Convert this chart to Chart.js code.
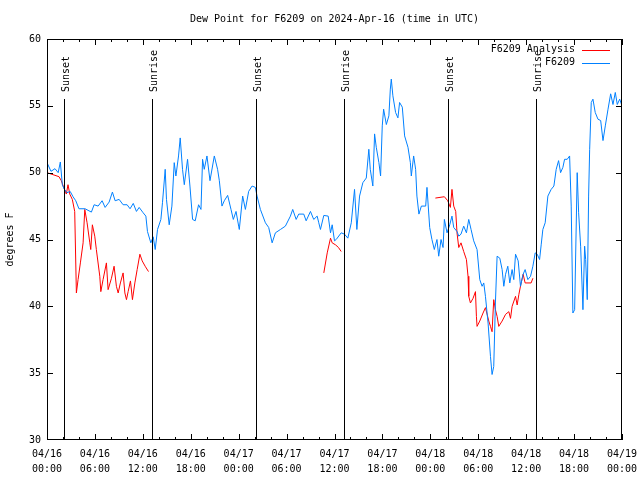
<!DOCTYPE html>
<html>
<head>
<meta charset="utf-8">
<script src="https://cdn.jsdelivr.net/npm/chart.js@4.4.1/dist/chart.umd.min.js"></script>
<style>
html, body { margin: 0; padding: 0; background: #fff; }
</style>
</head>
<body>
<canvas id="dew" width="640" height="480"></canvas>
<script>
// 時間は 04/16 00:00 UTC からの経過時間(h)
const xTickLabels = [
  ['04/16', '00:00'], ['04/16', '06:00'], ['04/16', '12:00'], ['04/16', '18:00'],
  ['04/17', '00:00'], ['04/17', '06:00'], ['04/17', '12:00'], ['04/17', '18:00'],
  ['04/18', '00:00'], ['04/18', '06:00'], ['04/18', '12:00'], ['04/18', '18:00'],
  ['04/19', '00:00']
];
const sunTimes = [2.17, 13.18, 26.2, 37.18, 50.15, 61.17];
const sunLabels = ['Sunset', 'Sunrise', 'Sunset', 'Sunrise', 'Sunset', 'Sunrise'];

// F6209 観測値 [時間, 露点F]
const f6209 = [
  [0, 50.75], [0.5, 50.1], [1.0, 50.3], [1.4, 50.0], [1.67, 50.8], [1.92, 49.1], [2.13, 48.8], [2.5, 48.5],
  [2.9, 48.6], [3.26, 48.2], [3.6, 47.9], [4.0, 47.3], [4.77, 47.3], [5.56, 47.05], [5.9, 47.6], [6.4, 47.5],
  [6.9, 47.9], [7.28, 47.4], [7.78, 47.8], [8.19, 48.55], [8.53, 47.9], [9.03, 48.0], [9.53, 47.6], [10.03, 47.6],
  [10.4, 47.3], [10.8, 47.7], [11.2, 47.1], [11.54, 47.4], [12.04, 47.0], [12.38, 46.75], [12.58, 45.6], [13.0, 44.75],
  [13.3, 45.2], [13.55, 44.25], [13.84, 45.75], [14.26, 46.5], [14.46, 47.75], [14.8, 50.25], [14.96, 48.0], [15.3, 46.1],
  [15.64, 47.5], [15.93, 50.75], [16.14, 49.75], [16.47, 51.25], [16.68, 52.6], [16.97, 50.25], [17.19, 49.1], [17.6, 51.0],
  [17.9, 49.0], [18.23, 46.5], [18.56, 46.4], [18.98, 47.6], [19.28, 47.25], [19.48, 51.0], [19.69, 50.25], [20.03, 51.25],
  [20.41, 49.4], [20.95, 51.25], [21.36, 50.25], [21.58, 49.4], [21.91, 47.5], [22.2, 47.9], [22.62, 48.3], [23.04, 47.25],
  [23.33, 46.5], [23.67, 47.1], [24.0, 46.0], [24.08, 45.75], [24.5, 48.25], [24.84, 47.25], [25.25, 48.6], [25.68, 49.0],
  [26.09, 48.9], [26.3, 48.25], [26.72, 47.25], [27.35, 46.25], [27.76, 45.9], [28.19, 44.75], [28.6, 45.5], [29.23, 45.75],
  [29.85, 46.0], [30.48, 46.75], [30.77, 47.25], [31.2, 46.5], [31.52, 46.9], [32.15, 46.9], [32.45, 46.4], [32.99, 47.1],
  [33.4, 46.5], [33.83, 46.75], [34.03, 46.25], [34.24, 45.75], [34.66, 46.8], [35.21, 46.75], [35.5, 45.5], [35.71, 46.1],
  [36.0, 44.9], [36.21, 45.0], [36.84, 45.5], [37.25, 45.4], [37.67, 45.1], [38.1, 46.25], [38.51, 48.75], [38.8, 45.75],
  [39.14, 48.25], [39.55, 49.25], [39.98, 49.6], [40.3, 51.75], [40.48, 50.25], [40.8, 49.0], [41.02, 52.9], [41.23, 51.9],
  [41.56, 50.75], [41.77, 49.75], [41.98, 53.5], [42.15, 54.75], [42.49, 53.6], [42.81, 54.25], [42.99, 56.25], [43.11, 57.0],
  [43.31, 55.75], [43.65, 54.5], [43.94, 54.1], [44.15, 55.25], [44.49, 54.9], [44.78, 52.75], [45.2, 51.9], [45.5, 50.75],
  [45.62, 49.75], [45.91, 51.25], [46.16, 50.25], [46.32, 48.25], [46.57, 46.9], [46.88, 47.5], [47.42, 47.5], [47.58, 48.9],
  [47.92, 45.9], [48.2, 45.0], [48.5, 44.25], [48.83, 45.0], [49.05, 43.75], [49.34, 45.0], [49.59, 44.4], [49.76, 46.5],
  [50.09, 45.5], [50.43, 46.1], [50.71, 46.75], [50.93, 45.9], [51.34, 45.6], [51.56, 45.25], [51.84, 45.4], [52.18, 46.0],
  [52.52, 45.5], [52.81, 46.5], [53.1, 45.75], [53.43, 44.9], [53.85, 44.25], [54.19, 42.0], [54.48, 41.5], [54.69, 41.75],
  [54.9, 40.75], [55.23, 38.75], [55.53, 36.25], [55.73, 34.9], [55.94, 35.5], [56.15, 40.25], [56.36, 43.75], [56.7, 43.6],
  [56.99, 42.75], [57.2, 41.5], [57.42, 42.4], [57.7, 43.0], [57.95, 41.75], [58.24, 42.75], [58.45, 42.0], [58.67, 43.9],
  [59.0, 43.4], [59.29, 41.5], [59.62, 42.4], [59.87, 42.75], [60.21, 42.0], [60.55, 42.25], [60.84, 43.0], [61.13, 44.0],
  [61.38, 43.9], [61.68, 43.5], [61.88, 44.6], [62.09, 45.75], [62.38, 46.25], [62.72, 48.25], [63.13, 48.75], [63.47, 49.0],
  [63.76, 50.25], [64.06, 50.9], [64.31, 50.0], [64.6, 50.4], [64.81, 51.0], [65.14, 51.0], [65.44, 51.25], [65.64, 47.5],
  [65.85, 39.5], [66.07, 39.75], [66.39, 50.0], [66.57, 47.0], [66.82, 44.5], [67.11, 39.75], [67.32, 44.5], [67.45, 43.5],
  [67.65, 40.5], [67.82, 48.25], [67.95, 51.75], [68.15, 55.25], [68.36, 55.5], [68.65, 54.5], [68.99, 54.0], [69.33, 53.9],
  [69.62, 52.4], [69.91, 53.5], [70.25, 54.75], [70.58, 55.9], [70.87, 55.1], [71.16, 56.0], [71.41, 55.1], [71.71, 55.5],
  [72.0, 55.0]
];

// F6209 Analysis (夜間のみ、3区間)
const analysis1 = [
  [0, 50.0], [0.5, 49.9], [1.0, 49.8], [1.5, 49.7], [1.79, 49.4], [2.09, 48.9], [2.42, 48.4], [2.63, 49.1],
  [2.85, 48.4], [3.17, 48.0], [3.47, 47.1], [3.68, 41.0], [3.89, 42.0], [4.18, 43.25], [4.52, 44.75], [4.73, 47.25],
  [5.02, 46.25], [5.36, 44.75], [5.48, 44.25], [5.68, 46.1], [5.98, 45.25], [6.18, 44.25], [6.61, 42.25], [6.74, 41.1],
  [7.02, 42.0], [7.44, 43.25], [7.65, 41.25], [8.07, 42.1], [8.4, 43.0], [8.69, 41.5], [8.91, 41.0], [9.19, 41.75],
  [9.53, 42.5], [9.75, 41.0], [9.95, 40.5], [10.16, 41.1], [10.45, 41.9], [10.7, 40.5], [11.0, 41.75], [11.29, 42.75],
  [11.63, 43.9], [11.92, 43.4], [12.29, 43.0], [12.71, 42.6]
];
const analysis2 = [
  [34.66, 42.5], [35.09, 44.0], [35.5, 45.1], [35.71, 44.75], [36.13, 44.6], [36.5, 44.4], [36.84, 44.1]
];
const analysis3 = [
  [48.63, 48.1], [49.76, 48.2], [50.18, 47.9], [50.51, 47.4], [50.71, 48.75], [50.93, 47.5], [51.18, 47.1], [51.34, 45.5],
  [51.56, 44.4], [51.84, 44.75], [52.18, 44.1], [52.52, 43.5], [52.72, 42.25], [52.81, 40.75], [53.02, 40.25], [53.35, 40.6],
  [53.65, 41.1], [53.77, 39.25], [53.85, 38.5], [54.19, 38.9], [54.6, 39.5], [54.9, 39.9], [55.32, 38.9], [55.53, 38.5],
  [55.73, 38.1], [55.94, 40.5], [56.15, 39.75], [56.36, 39.25], [56.57, 38.5], [56.99, 38.9], [57.42, 39.4], [57.83, 39.6],
  [58.04, 39.1], [58.24, 40.0], [58.67, 40.75], [58.87, 40.1], [59.09, 40.9], [59.37, 41.75], [59.62, 42.4], [59.87, 41.75],
  [60.62, 41.75], [60.84, 42.1]
];

const FONT = '"DejaVu Sans Mono", "Liberation Mono", monospace';

// 区間の間は null を入れて線を切る
function toPoints(segments) {
  const pts = [];
  segments.forEach((seg, i) => {
    if (i > 0) pts.push({ x: seg[0][0] - 0.01, y: null });
    seg.forEach(p => pts.push({ x: p[0], y: p[1] }));
  });
  return pts;
}

// 枠・目盛り・日の出日の入り・凡例・タイトル
const gnuplotLook = {
  id: 'gnuplotLook',
  afterDatasetsDraw(chart) {
    const { ctx, chartArea: a, scales: { x, y } } = chart;
    ctx.save();
    ctx.strokeStyle = '#000';
    ctx.fillStyle = '#000';
    ctx.lineWidth = 1;
    ctx.font = '10px ' + FONT;

    // 日の出・日の入り
    sunTimes.forEach((t, i) => {
      const px = Math.round(x.getPixelForValue(t)) + 0.5;
      ctx.beginPath();
      ctx.moveTo(px, a.top + 60);
      ctx.lineTo(px, a.bottom);
      ctx.stroke();
      ctx.save();
      ctx.translate(px + 2, a.top + 53);
      ctx.rotate(-Math.PI / 2);
      ctx.textAlign = 'left';
      ctx.textBaseline = 'middle';
      ctx.fillText(sunLabels[i], 0, 0);
      ctx.restore();
    });

    // 枠
    ctx.strokeRect(a.left + 0.5, a.top + 0.5, a.right - a.left - 1, a.bottom - a.top - 1);

    // x 目盛り (内向き)
    ctx.beginPath();
    for (let h = 0; h <= 72; h += 2) {
      const px = Math.round(x.getPixelForValue(h)) + 0.5;
      const len = h % 6 === 0 ? 6 : 3;
      ctx.moveTo(px, a.bottom);
      ctx.lineTo(px, a.bottom - len);
      ctx.moveTo(px, a.top);
      ctx.lineTo(px, a.top + len);
    }
    // y 目盛り
    for (let v = 35; v < 60; v += 5) {
      const py = Math.round(y.getPixelForValue(v)) + 0.5;
      ctx.moveTo(a.left, py);
      ctx.lineTo(a.left + 6, py);
      ctx.moveTo(a.right, py);
      ctx.lineTo(a.right - 6, py);
    }
    ctx.stroke();

    // 凡例
    chart.data.datasets.forEach((ds, i) => {
      const ly = a.top + 10.5 + i * 13;
      ctx.textAlign = 'right';
      ctx.textBaseline = 'middle';
      ctx.fillStyle = '#000';
      ctx.fillText(ds.label, a.right - 47, ly);
      ctx.strokeStyle = ds.borderColor;
      ctx.beginPath();
      ctx.moveTo(a.right - 40, Math.round(ly) + 0.5);
      ctx.lineTo(a.right - 12, Math.round(ly) + 0.5);
      ctx.stroke();
    });

    // タイトル
    ctx.fillStyle = '#000';
    ctx.textAlign = 'center';
    ctx.textBaseline = 'middle';
    ctx.fillText('Dew Point for F6209 on 2024-Apr-16 (time in UTC)', (a.left + a.right) / 2, 19);

    // y 軸ラベル
    ctx.save();
    ctx.translate(10, (a.top + a.bottom) / 2);
    ctx.rotate(-Math.PI / 2);
    ctx.fillText('degrees F', 0, 0);
    ctx.restore();

    ctx.restore();
  }
};

const ctx = document.getElementById('dew');

const dewChart = new Chart(ctx, {
  type: 'line',
  data: {
    datasets: [{
      label: 'F6209 Analysis',
      data: toPoints([analysis1, analysis2, analysis3]),
      borderColor: '#ff0000',
      order: 1,
    }, {
      label: 'F6209',
      data: toPoints([f6209]),
      borderColor: '#0080ff',
      order: 0,
    }]
  },
  options: {
    responsive: false,
    animation: false,
    devicePixelRatio: 1,
    layout: { padding: { left: 0, right: 18, top: 39, bottom: 0 } },
    elements: {
      point: { radius: 0 },
      line: { borderWidth: 1, tension: 0 }
    },
    plugins: {
      legend: { display: false },
      title: { display: false },
      tooltip: { enabled: false }
    },
    scales: {
      x: {
        type: 'linear',
        min: 0,
        max: 72,
        afterFit: s => { s.height = 40; s.paddingLeft = 0; s.paddingRight = 0; },
        grid: { display: false, drawTicks: false },
        border: { display: false },
        ticks: {
          stepSize: 6,
          autoSkip: false,
          maxRotation: 0,
          padding: 7,
          color: '#000',
          font: { family: FONT, size: 10, lineHeight: 1.5 },
          callback: (v, i) => xTickLabels[i]
        }
      },
      y: {
        min: 30,
        max: 60,
        afterFit: s => { s.width = 47; s.paddingTop = 0; s.paddingBottom = 0; },
        grid: { display: false, drawTicks: false },
        border: { display: false },
        ticks: {
          stepSize: 5,
          padding: 6,
          color: '#000',
          font: { family: FONT, size: 10 }
        }
      }
    }
  },
  plugins: [gnuplotLook]
});
</script>
</body>
</html>
